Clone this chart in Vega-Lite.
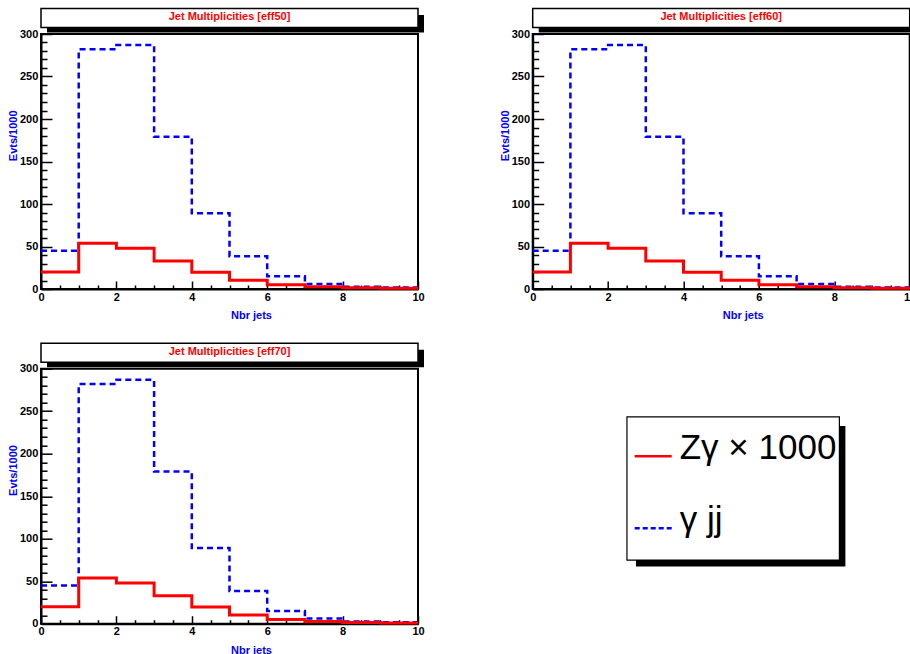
{
  "$schema": "https://vega.github.io/schema/vega-lite/v6.json",
  "background": "white",
  "padding": {"left": 6, "top": 6, "right": -4, "bottom": -1},
  "datasets": {
    "hist": [
      {"panel": "eff50", "series": "γ jj", "x": 0, "y": 45},
      {"panel": "eff50", "series": "γ jj", "x": 1, "y": 282},
      {"panel": "eff50", "series": "γ jj", "x": 2, "y": 287},
      {"panel": "eff50", "series": "γ jj", "x": 3, "y": 179},
      {"panel": "eff50", "series": "γ jj", "x": 4, "y": 89},
      {"panel": "eff50", "series": "γ jj", "x": 5, "y": 38.5},
      {"panel": "eff50", "series": "γ jj", "x": 6, "y": 15},
      {"panel": "eff50", "series": "γ jj", "x": 7, "y": 6},
      {"panel": "eff50", "series": "γ jj", "x": 8, "y": 2.7},
      {"panel": "eff50", "series": "γ jj", "x": 9, "y": 1.8},
      {"panel": "eff50", "series": "γ jj", "x": 10, "y": 1.8},
      {"panel": "eff50", "series": "Zγ × 1000", "x": 0, "y": 20},
      {"panel": "eff50", "series": "Zγ × 1000", "x": 1, "y": 53.8},
      {"panel": "eff50", "series": "Zγ × 1000", "x": 2, "y": 47.9},
      {"panel": "eff50", "series": "Zγ × 1000", "x": 3, "y": 33},
      {"panel": "eff50", "series": "Zγ × 1000", "x": 4, "y": 19.6},
      {"panel": "eff50", "series": "Zγ × 1000", "x": 5, "y": 10.2},
      {"panel": "eff50", "series": "Zγ × 1000", "x": 6, "y": 5},
      {"panel": "eff50", "series": "Zγ × 1000", "x": 7, "y": 2.7},
      {"panel": "eff50", "series": "Zγ × 1000", "x": 8, "y": 1.5},
      {"panel": "eff50", "series": "Zγ × 1000", "x": 9, "y": 0.8},
      {"panel": "eff50", "series": "Zγ × 1000", "x": 10, "y": 0.8},
      {"panel": "eff60", "series": "γ jj", "x": 0, "y": 45},
      {"panel": "eff60", "series": "γ jj", "x": 1, "y": 282},
      {"panel": "eff60", "series": "γ jj", "x": 2, "y": 287},
      {"panel": "eff60", "series": "γ jj", "x": 3, "y": 179},
      {"panel": "eff60", "series": "γ jj", "x": 4, "y": 89},
      {"panel": "eff60", "series": "γ jj", "x": 5, "y": 38.5},
      {"panel": "eff60", "series": "γ jj", "x": 6, "y": 15},
      {"panel": "eff60", "series": "γ jj", "x": 7, "y": 6},
      {"panel": "eff60", "series": "γ jj", "x": 8, "y": 2.7},
      {"panel": "eff60", "series": "γ jj", "x": 9, "y": 1.8},
      {"panel": "eff60", "series": "γ jj", "x": 10, "y": 1.8},
      {"panel": "eff60", "series": "Zγ × 1000", "x": 0, "y": 20},
      {"panel": "eff60", "series": "Zγ × 1000", "x": 1, "y": 53.8},
      {"panel": "eff60", "series": "Zγ × 1000", "x": 2, "y": 47.9},
      {"panel": "eff60", "series": "Zγ × 1000", "x": 3, "y": 33},
      {"panel": "eff60", "series": "Zγ × 1000", "x": 4, "y": 19.6},
      {"panel": "eff60", "series": "Zγ × 1000", "x": 5, "y": 10.2},
      {"panel": "eff60", "series": "Zγ × 1000", "x": 6, "y": 5},
      {"panel": "eff60", "series": "Zγ × 1000", "x": 7, "y": 2.7},
      {"panel": "eff60", "series": "Zγ × 1000", "x": 8, "y": 1.5},
      {"panel": "eff60", "series": "Zγ × 1000", "x": 9, "y": 0.8},
      {"panel": "eff60", "series": "Zγ × 1000", "x": 10, "y": 0.8},
      {"panel": "eff70", "series": "γ jj", "x": 0, "y": 45},
      {"panel": "eff70", "series": "γ jj", "x": 1, "y": 282},
      {"panel": "eff70", "series": "γ jj", "x": 2, "y": 287},
      {"panel": "eff70", "series": "γ jj", "x": 3, "y": 179},
      {"panel": "eff70", "series": "γ jj", "x": 4, "y": 89},
      {"panel": "eff70", "series": "γ jj", "x": 5, "y": 38.5},
      {"panel": "eff70", "series": "γ jj", "x": 6, "y": 15},
      {"panel": "eff70", "series": "γ jj", "x": 7, "y": 6},
      {"panel": "eff70", "series": "γ jj", "x": 8, "y": 2.7},
      {"panel": "eff70", "series": "γ jj", "x": 9, "y": 1.8},
      {"panel": "eff70", "series": "γ jj", "x": 10, "y": 1.8},
      {"panel": "eff70", "series": "Zγ × 1000", "x": 0, "y": 20},
      {"panel": "eff70", "series": "Zγ × 1000", "x": 1, "y": 53.8},
      {"panel": "eff70", "series": "Zγ × 1000", "x": 2, "y": 47.9},
      {"panel": "eff70", "series": "Zγ × 1000", "x": 3, "y": 33},
      {"panel": "eff70", "series": "Zγ × 1000", "x": 4, "y": 19.6},
      {"panel": "eff70", "series": "Zγ × 1000", "x": 5, "y": 10.2},
      {"panel": "eff70", "series": "Zγ × 1000", "x": 6, "y": 5},
      {"panel": "eff70", "series": "Zγ × 1000", "x": 7, "y": 2.7},
      {"panel": "eff70", "series": "Zγ × 1000", "x": 8, "y": 1.5},
      {"panel": "eff70", "series": "Zγ × 1000", "x": 9, "y": 0.8},
      {"panel": "eff70", "series": "Zγ × 1000", "x": 10, "y": 0.8}
    ]
  },
  "columns": 2,
  "spacing": {"row": 79.7, "column": 114.7},
  "bounds": "flush",
  "concat": [
    {
      "width": 377, "height": 255,
      "layer": [
        {
          "data": {"name": "hist"},
          "transform": [{"filter": "datum.panel === 'eff50'"}],
          "encoding": {
            "x": {"field": "x", "type": "quantitative", "scale": {"domain": [0, 10], "nice": false, "zero": false},
              "axis": {"title": "Nbr jets", "values": [0,0.5,1,1.5,2,2.5,3,3.5,4,4.5,5,5.5,6,6.5,7,7.5,8,8.5,9,9.5,10],
                "labelExpr": "datum.value % 2 === 0 ? '' + datum.value : ''",
                "tickSize": {"condition": {"test": "datum.value % 2 === 0", "value": -8}, "value": -4},
                "labelPadding": 10, "labelFlush": false, "labelOverlap": false, "labelBaseline": "top",
                "labelFont": "Liberation Sans", "labelFontWeight": "bold", "labelFontSize": 11, "labelColor": "black",
                "domainColor": "black", "domainWidth": 2, "tickColor": "black", "tickWidth": 1.5, "grid": false,
                "titleFont": "Liberation Sans", "titleFontWeight": "bold", "titleFontSize": 11, "titleColor": "#0000ff",
                "titleX": 210, "titleY": 29.3, "titleAlign": "center", "titleBaseline": "alphabetic"}},
            "y": {"field": "y", "type": "quantitative", "scale": {"domain": [0, 300], "nice": false, "zero": false},
              "axis": {"title": "Evts/1000", "values": [0,10,20,30,40,50,60,70,80,90,100,110,120,130,140,150,160,170,180,190,200,210,220,230,240,250,260,270,280,290,300],
                "labelExpr": "datum.value % 50 === 0 ? '' + datum.value : ''",
                "tickSize": {"condition": {"test": "datum.value % 50 === 0", "value": -11}, "value": -6},
                "labelPadding": 14.2, "labelFlush": false, "labelOverlap": false, "labelBaseline": "middle",
                "labelFont": "Liberation Sans", "labelFontWeight": "bold", "labelFontSize": 11, "labelColor": "black",
                "domainColor": "black", "domainWidth": 2, "tickColor": "black", "tickWidth": 1.5, "grid": false,
                "titleFont": "Liberation Sans", "titleFontWeight": "bold", "titleFontSize": 11, "titleColor": "#0000ff",
                "titleAngle": 270, "titleX": -24.2, "titleY": 101.3, "titleAlign": "center", "titleBaseline": "alphabetic"}},
            "color": {"field": "series", "type": "nominal", "scale": {"domain": ["Zγ × 1000", "γ jj"], "range": ["#ff0000", "#0000ff"]}, "legend": null}
          },
          "layer": [
            {"transform": [{"filter": "datum.series === 'γ jj'"}],
             "mark": {"type": "line", "interpolate": "step-after", "strokeWidth": 2.5, "strokeDash": [6, 4], "strokeCap": "butt"}},
            {"transform": [{"filter": "datum.series === 'Zγ × 1000'"}],
             "mark": {"type": "line", "interpolate": "step-after", "strokeWidth": 3, "strokeCap": "butt"}}
          ]
        },
        {
          "data": {"values": [{"title": "Jet Multiplicities [eff50]"}]},
          "layer": [
            {"mark": {"type": "rect", "fill": "black", "xOffset": 6, "x2Offset": 6, "yOffset": 5, "y2Offset": 6.5},
             "encoding": {
               "x": {"datum": 0, "type": "quantitative", "scale": {"domain": [0, 1], "nice": false, "zero": false}, "axis": null},
               "x2": {"datum": 1},
               "y": {"datum": 0, "type": "quantitative", "scale": {"domain": [0, 1], "range": [-6.4, -25.4], "nice": false, "zero": false}, "axis": null},
               "y2": {"datum": 1}}},
            {"mark": {"type": "rect", "fill": "white", "stroke": "black", "strokeWidth": 1.5},
             "encoding": {"x": {"datum": 0, "type": "quantitative"}, "x2": {"datum": 1}, "y": {"datum": 0, "type": "quantitative"}, "y2": {"datum": 1}}},
            {"mark": {"type": "text", "font": "Liberation Sans", "fontWeight": "bold", "fontSize": 11, "color": "#ff0000", "align": "center", "baseline": "alphabetic"},
             "encoding": {"x": {"datum": 0.5, "type": "quantitative"}, "y": {"datum": 0.4, "type": "quantitative"}, "text": {"field": "title"}}}
          ]
        }
      ],
      "resolve": {"scale": {"x": "independent", "y": "independent"}}
    },
    {
      "width": 377, "height": 255,
      "layer": [
        {
          "data": {"name": "hist"},
          "transform": [{"filter": "datum.panel === 'eff60'"}],
          "encoding": {
            "x": {"field": "x", "type": "quantitative", "scale": {"domain": [0, 10], "nice": false, "zero": false},
              "axis": {"title": "Nbr jets", "values": [0,0.5,1,1.5,2,2.5,3,3.5,4,4.5,5,5.5,6,6.5,7,7.5,8,8.5,9,9.5,10],
                "labelExpr": "datum.value % 2 === 0 ? '' + datum.value : ''",
                "tickSize": {"condition": {"test": "datum.value % 2 === 0", "value": -8}, "value": -4},
                "labelPadding": 10, "labelFlush": false, "labelOverlap": false, "labelBaseline": "top",
                "labelFont": "Liberation Sans", "labelFontWeight": "bold", "labelFontSize": 11, "labelColor": "black",
                "domainColor": "black", "domainWidth": 2, "tickColor": "black", "tickWidth": 1.5, "grid": false,
                "titleFont": "Liberation Sans", "titleFontWeight": "bold", "titleFontSize": 11, "titleColor": "#0000ff",
                "titleX": 210, "titleY": 29.3, "titleAlign": "center", "titleBaseline": "alphabetic"}},
            "y": {"field": "y", "type": "quantitative", "scale": {"domain": [0, 300], "nice": false, "zero": false},
              "axis": {"title": "Evts/1000", "values": [0,10,20,30,40,50,60,70,80,90,100,110,120,130,140,150,160,170,180,190,200,210,220,230,240,250,260,270,280,290,300],
                "labelExpr": "datum.value % 50 === 0 ? '' + datum.value : ''",
                "tickSize": {"condition": {"test": "datum.value % 50 === 0", "value": -11}, "value": -6},
                "labelPadding": 14.2, "labelFlush": false, "labelOverlap": false, "labelBaseline": "middle",
                "labelFont": "Liberation Sans", "labelFontWeight": "bold", "labelFontSize": 11, "labelColor": "black",
                "domainColor": "black", "domainWidth": 2, "tickColor": "black", "tickWidth": 1.5, "grid": false,
                "titleFont": "Liberation Sans", "titleFontWeight": "bold", "titleFontSize": 11, "titleColor": "#0000ff",
                "titleAngle": 270, "titleX": -24.2, "titleY": 101.3, "titleAlign": "center", "titleBaseline": "alphabetic"}},
            "color": {"field": "series", "type": "nominal", "scale": {"domain": ["Zγ × 1000", "γ jj"], "range": ["#ff0000", "#0000ff"]}, "legend": null}
          },
          "layer": [
            {"transform": [{"filter": "datum.series === 'γ jj'"}],
             "mark": {"type": "line", "interpolate": "step-after", "strokeWidth": 2.5, "strokeDash": [6, 4], "strokeCap": "butt"}},
            {"transform": [{"filter": "datum.series === 'Zγ × 1000'"}],
             "mark": {"type": "line", "interpolate": "step-after", "strokeWidth": 3, "strokeCap": "butt"}}
          ]
        },
        {
          "data": {"values": [{"title": "Jet Multiplicities [eff60]"}]},
          "layer": [
            {"mark": {"type": "rect", "fill": "black", "xOffset": 6, "x2Offset": 6, "yOffset": 5, "y2Offset": 6.5},
             "encoding": {
               "x": {"datum": 0, "type": "quantitative", "scale": {"domain": [0, 1], "nice": false, "zero": false}, "axis": null},
               "x2": {"datum": 1},
               "y": {"datum": 0, "type": "quantitative", "scale": {"domain": [0, 1], "range": [-6.4, -25.4], "nice": false, "zero": false}, "axis": null},
               "y2": {"datum": 1}}},
            {"mark": {"type": "rect", "fill": "white", "stroke": "black", "strokeWidth": 1.5},
             "encoding": {"x": {"datum": 0, "type": "quantitative"}, "x2": {"datum": 1}, "y": {"datum": 0, "type": "quantitative"}, "y2": {"datum": 1}}},
            {"mark": {"type": "text", "font": "Liberation Sans", "fontWeight": "bold", "fontSize": 11, "color": "#ff0000", "align": "center", "baseline": "alphabetic"},
             "encoding": {"x": {"datum": 0.5, "type": "quantitative"}, "y": {"datum": 0.4, "type": "quantitative"}, "text": {"field": "title"}}}
          ]
        }
      ],
      "resolve": {"scale": {"x": "independent", "y": "independent"}}
    },
    {
      "width": 377, "height": 255,
      "layer": [
        {
          "data": {"name": "hist"},
          "transform": [{"filter": "datum.panel === 'eff70'"}],
          "encoding": {
            "x": {"field": "x", "type": "quantitative", "scale": {"domain": [0, 10], "nice": false, "zero": false},
              "axis": {"title": "Nbr jets", "values": [0,0.5,1,1.5,2,2.5,3,3.5,4,4.5,5,5.5,6,6.5,7,7.5,8,8.5,9,9.5,10],
                "labelExpr": "datum.value % 2 === 0 ? '' + datum.value : ''",
                "tickSize": {"condition": {"test": "datum.value % 2 === 0", "value": -8}, "value": -4},
                "labelPadding": 10, "labelFlush": false, "labelOverlap": false, "labelBaseline": "top",
                "labelFont": "Liberation Sans", "labelFontWeight": "bold", "labelFontSize": 11, "labelColor": "black",
                "domainColor": "black", "domainWidth": 2, "tickColor": "black", "tickWidth": 1.5, "grid": false,
                "titleFont": "Liberation Sans", "titleFontWeight": "bold", "titleFontSize": 11, "titleColor": "#0000ff",
                "titleX": 210, "titleY": 29.3, "titleAlign": "center", "titleBaseline": "alphabetic"}},
            "y": {"field": "y", "type": "quantitative", "scale": {"domain": [0, 300], "nice": false, "zero": false},
              "axis": {"title": "Evts/1000", "values": [0,10,20,30,40,50,60,70,80,90,100,110,120,130,140,150,160,170,180,190,200,210,220,230,240,250,260,270,280,290,300],
                "labelExpr": "datum.value % 50 === 0 ? '' + datum.value : ''",
                "tickSize": {"condition": {"test": "datum.value % 50 === 0", "value": -11}, "value": -6},
                "labelPadding": 14.2, "labelFlush": false, "labelOverlap": false, "labelBaseline": "middle",
                "labelFont": "Liberation Sans", "labelFontWeight": "bold", "labelFontSize": 11, "labelColor": "black",
                "domainColor": "black", "domainWidth": 2, "tickColor": "black", "tickWidth": 1.5, "grid": false,
                "titleFont": "Liberation Sans", "titleFontWeight": "bold", "titleFontSize": 11, "titleColor": "#0000ff",
                "titleAngle": 270, "titleX": -24.2, "titleY": 101.3, "titleAlign": "center", "titleBaseline": "alphabetic"}},
            "color": {"field": "series", "type": "nominal", "scale": {"domain": ["Zγ × 1000", "γ jj"], "range": ["#ff0000", "#0000ff"]}, "legend": null}
          },
          "layer": [
            {"transform": [{"filter": "datum.series === 'γ jj'"}],
             "mark": {"type": "line", "interpolate": "step-after", "strokeWidth": 2.5, "strokeDash": [6, 4], "strokeCap": "butt"}},
            {"transform": [{"filter": "datum.series === 'Zγ × 1000'"}],
             "mark": {"type": "line", "interpolate": "step-after", "strokeWidth": 3, "strokeCap": "butt"}}
          ]
        },
        {
          "data": {"values": [{"title": "Jet Multiplicities [eff70]"}]},
          "layer": [
            {"mark": {"type": "rect", "fill": "black", "xOffset": 6, "x2Offset": 6, "yOffset": 5, "y2Offset": 6.5},
             "encoding": {
               "x": {"datum": 0, "type": "quantitative", "scale": {"domain": [0, 1], "nice": false, "zero": false}, "axis": null},
               "x2": {"datum": 1},
               "y": {"datum": 0, "type": "quantitative", "scale": {"domain": [0, 1], "range": [-6.4, -25.4], "nice": false, "zero": false}, "axis": null},
               "y2": {"datum": 1}}},
            {"mark": {"type": "rect", "fill": "white", "stroke": "black", "strokeWidth": 1.5},
             "encoding": {"x": {"datum": 0, "type": "quantitative"}, "x2": {"datum": 1}, "y": {"datum": 0, "type": "quantitative"}, "y2": {"datum": 1}}},
            {"mark": {"type": "text", "font": "Liberation Sans", "fontWeight": "bold", "fontSize": 11, "color": "#ff0000", "align": "center", "baseline": "alphabetic"},
             "encoding": {"x": {"datum": 0.5, "type": "quantitative"}, "y": {"datum": 0.4, "type": "quantitative"}, "text": {"field": "title"}}}
          ]
        }
      ],
      "resolve": {"scale": {"x": "independent", "y": "independent"}}
    },
    {
      "width": 377, "height": 255,
      "view": {"stroke": null},
      "data": {"values": [{"series": "Zγ × 1000"}, {"series": "γ jj"}]},
      "layer": [
        {
          "data": {"values": [{}]},
          "layer": [
            {"mark": {"type": "rect", "fill": "black", "xOffset": 9, "x2Offset": 6, "yOffset": 6.5, "y2Offset": 9},
             "encoding": {
               "x": {"datum": 0.25, "type": "quantitative", "scale": {"domain": [0, 1], "nice": false, "zero": false}, "axis": null},
               "x2": {"datum": 0.8135},
               "y": {"datum": 0.2495, "type": "quantitative", "scale": {"domain": [0, 1], "nice": false, "zero": false}, "axis": null},
               "y2": {"datum": 0.811}}},
            {"mark": {"type": "rect", "fill": "white", "stroke": "black", "strokeWidth": 1.2},
             "encoding": {"x": {"datum": 0.25, "type": "quantitative"}, "x2": {"datum": 0.8135}, "y": {"datum": 0.2495, "type": "quantitative"}, "y2": {"datum": 0.811}}}
          ]
        },
        {
          "mark": {"type": "rule", "strokeWidth": 2.5, "strokeCap": "butt"},
          "encoding": {
            "x": {"datum": 0.2706, "type": "quantitative"},
            "x2": {"datum": 0.3687},
            "y": {"field": "series", "type": "nominal", "scale": {"type": "point", "domain": ["Zγ × 1000", "γ jj"], "range": [87.6, 159.6], "padding": 0}, "axis": null},
            "color": {"field": "series", "type": "nominal", "scale": {"domain": ["Zγ × 1000", "γ jj"], "range": ["#ff0000", "#0000ff"]}, "legend": null},
            "strokeDash": {"field": "series", "type": "nominal", "scale": {"domain": ["Zγ × 1000", "γ jj"], "range": [[1, 0], [5, 3]]}, "legend": null}
          }
        },
        {
          "mark": {"type": "text", "font": "Liberation Sans", "fontSize": 35, "color": "black", "align": "left", "baseline": "middle", "dy": -8},
          "encoding": {
            "x": {"datum": 0.39, "type": "quantitative"},
            "y": {"field": "series", "type": "nominal", "scale": {"type": "point", "domain": ["Zγ × 1000", "γ jj"], "range": [87.6, 159.6], "padding": 0}, "axis": null},
            "text": {"field": "series"}
          }
        }
      ],
      "resolve": {"scale": {"y": "independent"}}
    }
  ],
  "config": {
    "view": {"stroke": "black", "strokeWidth": 2},
    "font": "Liberation Sans"
  }
}
